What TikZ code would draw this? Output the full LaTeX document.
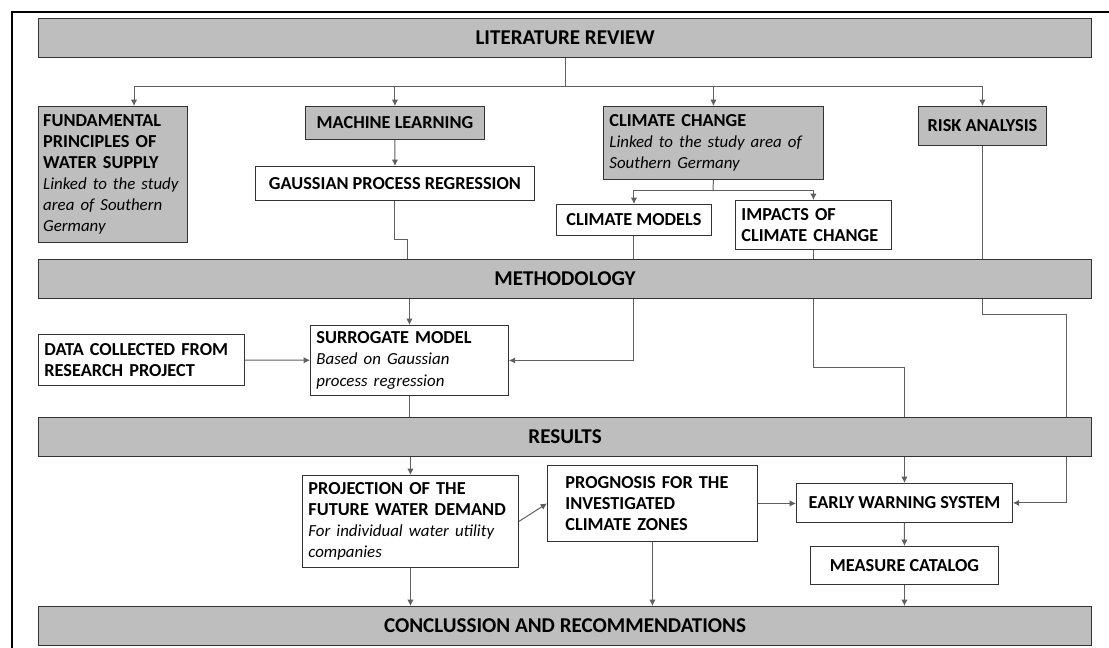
\documentclass[tikz,border=0pt]{standalone}
\usepackage{fontspec}
\setmainfont{Carlito}
\usetikzlibrary{arrows.meta}
\definecolor{barfill}{RGB}{190,190,190}
\definecolor{linegrey}{RGB}{95,95,95}
\newcommand{\note}[1]{{\mdseries\itshape\fontsize{12}{15}\selectfont #1}}

\begin{document}
\begin{tikzpicture}[
  x=0.025cm, y=-0.025cm,
  block/.style={rectangle, draw=black!80, line width=0.6pt, anchor=north west, inner ysep=1pt, inner xsep=0.15cm, font=\bfseries\fontsize{13}{15}\selectfont},
  bar/.style={block, fill=barfill, minimum width=26.325cm, minimum height=0.975cm, font=\bfseries\fontsize{15}{17}\selectfont},
  greybox/.style={block, fill=barfill},
  whitebox/.style={block, fill=white},
  line/.style={draw=linegrey, line width=0.7pt},
  arrow/.style={line, -{Latex[length=4.5pt,width=4.5pt]}}
]
\useasboundingbox (0,0) rectangle (1109,648);
\draw[line width=2pt] (12,648) -- (12,12) -- (1109,12);

% bars
\node[bar] (lit) at (38,18) {LITERATURE REVIEW};
\node[bar] (meth) at (38,259) {METHODOLOGY};
\node[bar] (res) at (38,417) {RESULTS};
\node[bar] (conc) at (38,606) {CONCLUSSION AND RECOMMENDATIONS};

% literature review
\node[greybox, inner xsep=0.12cm, text width=3.485cm, minimum height=3.4cm, align=left] (fund) at (38,106)
  {FUNDAMENTAL\\PRINCIPLES OF\\WATER SUPPLY\\\note{Linked to the study\\area of Southern\\Germany}};
\node[greybox, inner xsep=0.05cm, minimum width=4.475cm, minimum height=0.825cm] (ml) at (305,106) {MACHINE LEARNING};
\node[whitebox, inner xsep=0.05cm, minimum width=6.975cm, minimum height=0.85cm] (gpr) at (255,166) {GAUSSIAN PROCESS REGRESSION};
\node[greybox, text width=5.2cm, minimum height=1.825cm, align=left] (cc) at (603,106)
  {CLIMATE CHANGE\\\note{Linked to the study area of\\Southern Germany}};
\node[greybox, inner xsep=0.05cm, minimum width=3.2cm, minimum height=0.975cm] (risk) at (918,106) {RISK ANALYSIS};
\node[whitebox, inner xsep=0.05cm, minimum width=3.875cm, minimum height=0.775cm] (cm) at (556,204) {CLIMATE MODELS};
\node[whitebox, text width=3.6cm, minimum height=1.225cm, align=left] (imp) at (735,200) {IMPACTS OF\\CLIMATE CHANGE};

% methodology
\node[whitebox, text width=4.85cm, minimum height=1.275cm, align=left] (data) at (38,334) {DATA COLLECTED FROM\\RESEARCH PROJECT};
\node[whitebox, text width=4.65cm, minimum height=1.75cm, align=left] (sur) at (310,325)
  {SURROGATE MODEL\\\note{Based on Gaussian\\process regression}};

% results
\node[whitebox, text width=5.1cm, minimum height=2.3cm, align=left] (proj) at (302,475)
  {PROJECTION OF THE\\FUTURE WATER DEMAND\\\note{For individual water utility\\companies}};
\node[whitebox, inner xsep=0.45cm, text width=4.35cm, minimum height=1.9cm, align=left] (prog) at (547,465)
  {PROGNOSIS FOR THE\\INVESTIGATED\\CLIMATE ZONES};
\node[whitebox, inner xsep=0.05cm, minimum width=5.4cm, minimum height=0.975cm] (ews) at (796,483) {EARLY WARNING SYSTEM};
\node[whitebox, inner xsep=0.05cm, minimum width=4.7cm, minimum height=0.95cm] (meas) at (810,546) {MEASURE CATALOG};

% literature review branches
\coordinate (lr) at (134,86);
\draw[line] (lit.south) -- (lit.south |- lr);
\draw[line] (lr) -- (lr -| risk.north);
\draw[arrow] (lr) -- (lr |- fund.north);
\draw[arrow] (lr -| ml.north) -- (ml.north);
\draw[arrow] (lr -| cc.north) -- (cc.north);
\draw[arrow] (lr -| risk.north) -- (risk.north);
\draw[arrow] (ml) -- (gpr);

\coordinate (g1) at (407,239);
\draw[line] (gpr.south) |- (g1) -- (g1 |- meth.north);

\coordinate (cs) at (713,190);
\draw[line] (cc.south) -- (cs);
\draw[line] (cs -| cm.north) -- (cs -| imp.north);
\draw[arrow] (cs -| cm.north) -- (cm.north);
\draw[arrow] (cs -| imp.north) -- (imp.north);
\draw[line] (cm.south) -- (cm.south |- meth.north);
\draw[line] (imp.south) -- (imp.south |- meth.north);
\draw[line] (risk.south) -- (risk.south |- meth.north);

% methodology links
\draw[arrow] (sur.north |- meth.south) -- (sur.north);
\draw[arrow] (meth.south -| cm.south) |- (sur.east);
\draw[arrow] (data) -- (sur);
\draw[line] (sur.south) -- (sur.south |- res.north);

\coordinate (m2) at (904,367);
\coordinate (m3) at (1066,314);
\draw[line] (meth.south -| imp.south) |- (m2) -- (m2 |- res.north);
\draw[line] (meth.south -| risk.south) |- (m3) -- (m3 |- res.north);

% results links
\draw[arrow] (proj.north |- res.south) -- (proj.north);
\draw[arrow] (proj.east) -- (prog.west);
\draw[arrow] (proj.south) -- (proj.south |- conc.north);
\draw[arrow] (prog.south) -- (prog.south |- conc.north);
\draw[arrow] (prog.east) -- (prog.east -| ews.west);
\draw[arrow] (ews.north |- res.south) -- (ews.north);
\draw[arrow] (m3 |- res.south) |- (ews.east);
\draw[arrow] (ews) -- (meas);
\draw[arrow] (meas.south) -- (meas.south |- conc.north);
\end{tikzpicture}
\end{document}
